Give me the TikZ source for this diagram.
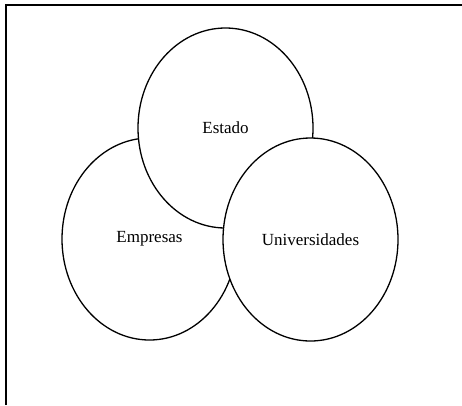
\documentclass[tikz,border=0pt]{standalone}
\usepackage{fontspec}
\setmainfont{Liberation Serif}
\usetikzlibrary{shapes.geometric}
\tikzset{
  sector/.style={draw, ellipse, fill=white, line width=1.3pt, inner sep=0pt,
    minimum width=175pt, minimum height=202pt,
    font=\fontsize{17}{19}\selectfont}
}
\begin{document}
\begin{tikzpicture}[x=1pt, y=-1pt]
  \useasboundingbox (0,0) rectangle (462,405);
  \draw[line width=1.2pt] (6,405)--(6,5)--(462,5);
  \node[sector] at (149.5,239) (empresas) {Empresas};
  \node[sector, minimum height=200pt] at (225.5,128) (estado) {Estado};
  \node[sector, minimum height=203pt] at (310.5,239.5) (universidades) {Universidades};
\end{tikzpicture}
\end{document}
